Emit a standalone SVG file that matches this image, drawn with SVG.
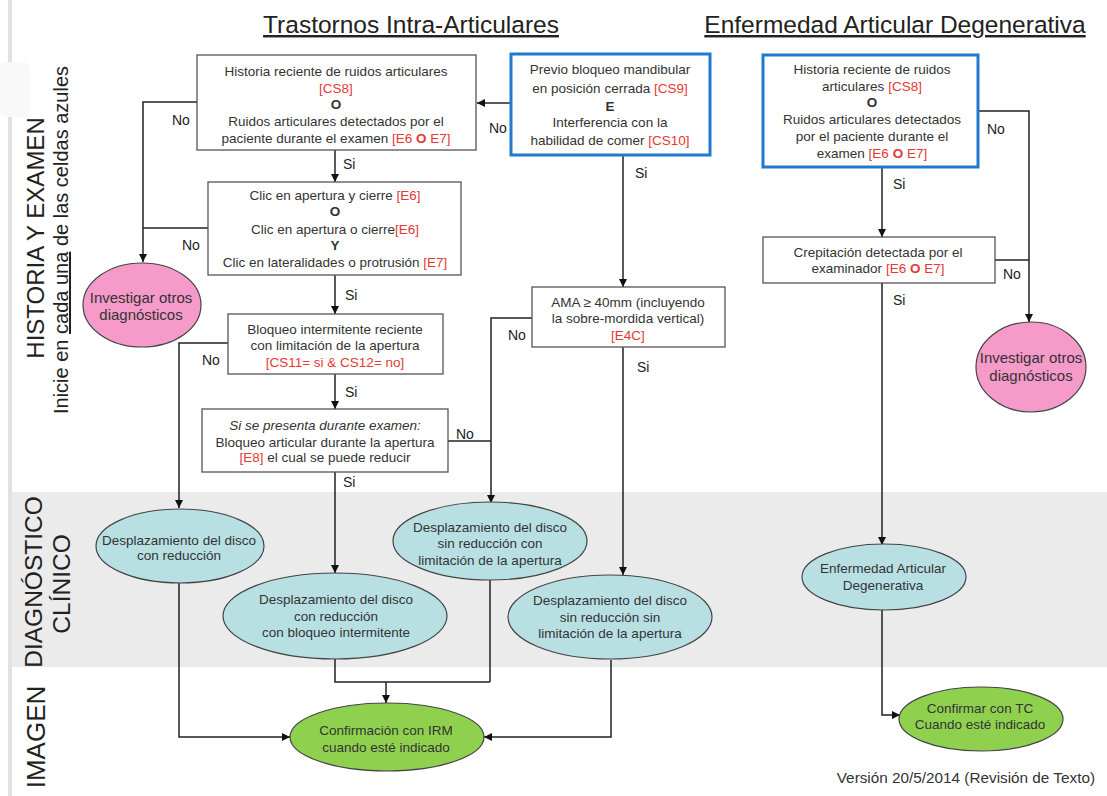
<svg xmlns="http://www.w3.org/2000/svg" width="1107" height="796" viewBox="0 0 1107 796">
<style>
.t{font-family:"Liberation Sans",Arial,sans-serif;font-size:13.5px;fill:#333;text-anchor:middle}
.p{font-size:15px}
.r{fill:#e53935}
.b{font-weight:bold}
.lbl{font-family:"Liberation Sans",Arial,sans-serif;font-size:14px;fill:#222}
.box{fill:#fff;stroke:#555;stroke-width:1.3}
.blue{fill:#fff;stroke:#1f7acb;stroke-width:3}
.pink{fill:#f59ac9;stroke:#444;stroke-width:1.2}
.cyan{fill:#b8e0e3;stroke:#444;stroke-width:1.2}
.green{fill:#8fd14f;stroke:#444;stroke-width:1.2}
.c{fill:none;stroke:#222;stroke-width:1.5}
.side{font-family:"Liberation Sans",Arial,sans-serif;fill:#222;text-anchor:middle}
.title{font-family:"Liberation Sans",Arial,sans-serif;font-size:24.5px;fill:#222;text-anchor:middle;text-decoration:underline}
</style>
<defs>
<marker id="ah" viewBox="0 0 10 10" refX="10" refY="5" markerWidth="8" markerHeight="8" markerUnits="userSpaceOnUse" orient="auto">
<path d="M0,0 L10,5 L0,10 z" fill="#111"/>
</marker>
</defs>
<rect width="1107" height="796" fill="#fff"/>
<rect x="12" y="492" width="1095" height="175" fill="#ebebeb"/>
<rect x="8" y="0" width="4" height="796" fill="#e2e2e2"/>
<rect x="0" y="62" width="30" height="55" rx="6" fill="#f9f9f9"/>

<g id="titles">
<text class="title" x="411" y="33">Trastornos Intra-Articulares</text>
<text class="title" x="895" y="33">Enfermedad Articular Degenerativa</text>
</g>
<g id="side-labels">
<text class="side" font-size="24" transform="translate(44,238) rotate(-90)">HISTORIA Y EXAMEN</text>
<text class="side" font-size="20" transform="translate(68,240) rotate(-90)">Inicie en <tspan text-decoration="underline">cada una</tspan> de las celdas azules</text>
<text class="side" font-size="24.5" transform="translate(42,582) rotate(-90)">DIAGNÓSTICO</text>
<text class="side" font-size="24.5" transform="translate(70,584) rotate(-90)">CLÍNICO</text>
<text class="side" font-size="26" transform="translate(45,737) rotate(-90)">IMAGEN</text>
</g>

<g id="connectors">
<polyline class="c" points="197,102 143,102 143,262" marker-end="url(#ah)"/>
<polyline class="c" points="208,228 143,228"/>
<line class="c" x1="511" y1="103" x2="477" y2="103" marker-end="url(#ah)"/>
<line class="c" x1="335" y1="150" x2="335" y2="182" marker-end="url(#ah)"/>
<line class="c" x1="335" y1="275" x2="335" y2="314" marker-end="url(#ah)"/>
<line class="c" x1="335" y1="374" x2="335" y2="409" marker-end="url(#ah)"/>
<line class="c" x1="335" y1="472" x2="335" y2="573" marker-end="url(#ah)"/>
<polyline class="c" points="228,343 179,343 179,508" marker-end="url(#ah)"/>
<polyline class="c" points="532,318 491,318 491,503" marker-end="url(#ah)"/>
<polyline class="c" points="448,441 491,441"/>
<line class="c" x1="623" y1="155" x2="623" y2="287" marker-end="url(#ah)"/>
<line class="c" x1="623" y1="347" x2="623" y2="575" marker-end="url(#ah)"/>
<polyline class="c" points="179,583 179,737 290,737" marker-end="url(#ah)"/>
<polyline class="c" points="335,659 335,682 490,682"/>
<line class="c" x1="490" y1="580" x2="490" y2="682"/>
<line class="c" x1="386" y1="682" x2="386" y2="703" marker-end="url(#ah)"/>
<polyline class="c" points="611,660 611,737 484,737" marker-end="url(#ah)"/>
<polyline class="c" points="978,111 1029,111 1029,322" marker-end="url(#ah)"/>
<polyline class="c" points="995,260 1029,260"/>
<line class="c" x1="882" y1="167" x2="882" y2="237" marker-end="url(#ah)"/>
<line class="c" x1="882" y1="283" x2="882" y2="545" marker-end="url(#ah)"/>
<polyline class="c" points="882,610 882,715 900,715" marker-end="url(#ah)"/>
</g>

<g id="connector-labels">
<text class="lbl" x="172" y="125">No</text>
<text class="lbl" x="489" y="133">No</text>
<text class="lbl" x="343" y="169">Si</text>
<text class="lbl" x="635" y="178">Si</text>
<text class="lbl" x="182" y="250">No</text>
<text class="lbl" x="345" y="300">Si</text>
<text class="lbl" x="202" y="365">No</text>
<text class="lbl" x="508" y="340">No</text>
<text class="lbl" x="637" y="372">Si</text>
<text class="lbl" x="345" y="397">Si</text>
<text class="lbl" x="456" y="439">No</text>
<text class="lbl" x="343" y="487">Si</text>
<text class="lbl" x="987" y="134">No</text>
<text class="lbl" x="893" y="189">Si</text>
<text class="lbl" x="1003" y="279">No</text>
<text class="lbl" x="893" y="305">Si</text>
</g>

<g id="box-historia">
<rect class="box" x="197" y="55" width="279" height="95"/>
<text class="t" x="336" y="76">Historia reciente de ruidos articulares</text>
<text class="t r" x="336" y="93">[CS8]</text>
<text class="t b" x="336" y="109" fill="#111">O</text>
<text class="t" x="336" y="126">Ruidos articulares detectados por el</text>
<text class="t" x="336" y="143">paciente durante el examen <tspan class="r">[E6 <tspan class="b">O</tspan> E7]</tspan></text>
</g>

<g id="box-previo">
<rect class="blue" x="511" y="54" width="199" height="101"/>
<text class="t" x="610" y="74">Previo bloqueo mandibular</text>
<text class="t" x="610" y="93">en posición cerrada <tspan class="r">[CS9]</tspan></text>
<text class="t b" x="610" y="111" fill="#111">E</text>
<text class="t" x="610" y="127">Interferencia con la</text>
<text class="t" x="610" y="145">habilidad de comer <tspan class="r">[CS10]</tspan></text>
</g>

<g id="box-historia-ead">
<rect class="blue" x="763" y="55" width="215" height="112"/>
<text class="t" x="872" y="74">Historia reciente de ruidos</text>
<text class="t" x="872" y="91">articulares  <tspan class="r">[CS8]</tspan></text>
<text class="t b" x="872" y="107" fill="#111">O</text>
<text class="t" x="872" y="124">Ruidos articulares detectados</text>
<text class="t" x="872" y="141">por el paciente durante el</text>
<text class="t" x="872" y="158">examen <tspan class="r">[E6 <tspan class="b">O</tspan> E7]</tspan></text>
</g>

<g id="box-clic">
<rect class="box" x="208" y="182" width="253" height="93"/>
<text class="t" x="335" y="200">Clic en apertura y cierre <tspan class="r">[E6]</tspan></text>
<text class="t b" x="335" y="216" fill="#111">O</text>
<text class="t" x="335" y="234">Clic en apertura o cierre<tspan class="r">[E6]</tspan></text>
<text class="t b" x="335" y="250" fill="#111">Y</text>
<text class="t" x="335" y="267">Clic en lateralidades o protrusión <tspan class="r">[E7]</tspan></text>
</g>

<g id="box-bloqueo">
<rect class="box" x="228" y="314" width="215" height="60"/>
<text class="t" x="335" y="334">Bloqueo intermitente reciente</text>
<text class="t" x="335" y="350">con limitación de la apertura</text>
<text class="t r" x="335" y="367">[CS11= si &amp; CS12= no]</text>
</g>

<g id="box-examen">
<rect class="box" x="202" y="409" width="246" height="63"/>
<text class="t" x="325" y="430" font-style="italic">Si se presenta durante examen:</text>
<text class="t" x="325" y="447">Bloqueo articular durante la apertura</text>
<text class="t" x="325" y="462"><tspan class="r">[E8]</tspan> el cual se puede reducir</text>
</g>

<g id="box-ama">
<rect class="box" x="532" y="287" width="193" height="60"/>
<text class="t" x="628" y="307">AMA ≥ 40mm (incluyendo</text>
<text class="t" x="628" y="323">la sobre-mordida vertical)</text>
<text class="t r" x="628" y="340">[E4C]</text>
</g>

<g id="box-crepitacion">
<rect class="box" x="763" y="237" width="232" height="46"/>
<text class="t" x="878" y="257">Crepitación detectada por el</text>
<text class="t" x="878" y="273">examinador <tspan class="r">[E6 <tspan class="b">O</tspan> E7]</tspan></text>
</g>

<g id="investigar-1">
<ellipse class="pink" cx="142" cy="305" rx="59" ry="42"/>
<text class="t p" x="141" y="303" fill="#222">Investigar otros</text>
<text class="t p" x="141" y="320" fill="#222">diagnósticos</text>
</g>

<g id="investigar-2">
<ellipse class="pink" cx="1031" cy="367" rx="55" ry="45"/>
<text class="t p" x="1031" y="363" fill="#222">Investigar otros</text>
<text class="t p" x="1031" y="381" fill="#222">diagnósticos</text>
</g>

<g id="dd-con-reduccion">
<ellipse class="cyan" cx="180" cy="546" rx="84" ry="37"/>
<text class="t" x="179" y="545" fill="#222">Desplazamiento del disco</text>
<text class="t" x="179" y="560" fill="#222">con reducción</text>
</g>

<g id="dd-bloqueo">
<ellipse class="cyan" cx="335" cy="616" rx="112" ry="43"/>
<text class="t" x="336" y="604" fill="#222">Desplazamiento del disco</text>
<text class="t" x="336" y="621" fill="#222">con reducción</text>
<text class="t" x="336" y="637" fill="#222">con bloqueo intermitente</text>
</g>

<g id="dd-sin-con-limitacion">
<ellipse class="cyan" cx="490" cy="541" rx="97" ry="39"/>
<text class="t" x="490" y="532" fill="#222">Desplazamiento del disco</text>
<text class="t" x="490" y="548" fill="#222">sin reducción con</text>
<text class="t" x="490" y="565" fill="#222">limitación de la apertura</text>
</g>

<g id="dd-sin-sin-limitacion">
<ellipse class="cyan" cx="610" cy="617" rx="102" ry="42"/>
<text class="t" x="610" y="605" fill="#222">Desplazamiento del disco</text>
<text class="t" x="610" y="622" fill="#222">sin reducción sin</text>
<text class="t" x="610" y="638" fill="#222">limitación de la apertura</text>
</g>

<g id="ead">
<ellipse class="cyan" cx="884" cy="577" rx="82" ry="33"/>
<text class="t" x="883" y="573" fill="#222">Enfermedad Articular</text>
<text class="t" x="883" y="590" fill="#222">Degenerativa</text>
</g>

<g id="irm">
<ellipse class="green" cx="387" cy="737" rx="97" ry="34"/>
<text class="t" x="386" y="735" fill="#222">Confirmación con IRM</text>
<text class="t" x="386" y="752" fill="#222">cuando esté indicado</text>
</g>

<g id="tc">
<ellipse class="green" cx="981" cy="719" rx="82" ry="32"/>
<text class="t" x="980" y="713" fill="#222">Confirmar con TC</text>
<text class="t" x="980" y="729" fill="#222">Cuando esté indicado</text>
</g>

<text x="1095" y="783" font-family="Liberation Sans, Arial, sans-serif" font-size="15.3" fill="#333" text-anchor="end">Versión 20/5/2014 (Revisión de Texto)</text>
</svg>
